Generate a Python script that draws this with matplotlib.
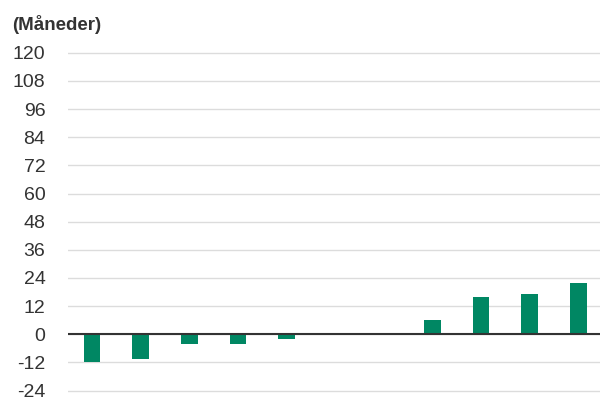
import numpy as np
import matplotlib.pyplot as plt

plt.rcParams['font.family'] = ['Liberation Sans', 'DejaVu Sans']

# data (months)
categories = list(range(11))
values = [-12, -10.4, -4, -4, -2, 0, 0, 6, 16, 17, 22]
yticks = list(range(-24, 121, 12))
unit_label = "(Måneder)"

bar_color = '#008763'
grid_color = '#dcdcdc'
text_color = '#333333'

fig = plt.figure(figsize=(6, 4.01), dpi=100)
ax = fig.add_axes([0.1128, 0.02, 0.8915, 0.8544])

x = np.arange(len(categories))
ax.bar(x, values, width=0.34, color=bar_color, zorder=3)
ax.axhline(0, color=text_color, lw=1.5, zorder=4)

ax.set_xlim(-0.5, len(categories) - 0.5)
ax.set_ylim(-25, 121)
ax.set_yticks(yticks)
ax.set_yticklabels([str(t) for t in yticks])
ax.set_xticks([])
ax.grid(axis='y', color=grid_color, lw=1, zorder=0)
ax.tick_params(axis='y', length=0, pad=16, labelsize=14, labelcolor=text_color)
for s in ax.spines.values():
    s.set_visible(False)

fig.text(11.7 / 600, 1 - 24 / 401, unit_label, fontsize=13.5, fontweight='bold',
         color=text_color, va='center', ha='left')

fig.savefig('out.png', dpi=100)
